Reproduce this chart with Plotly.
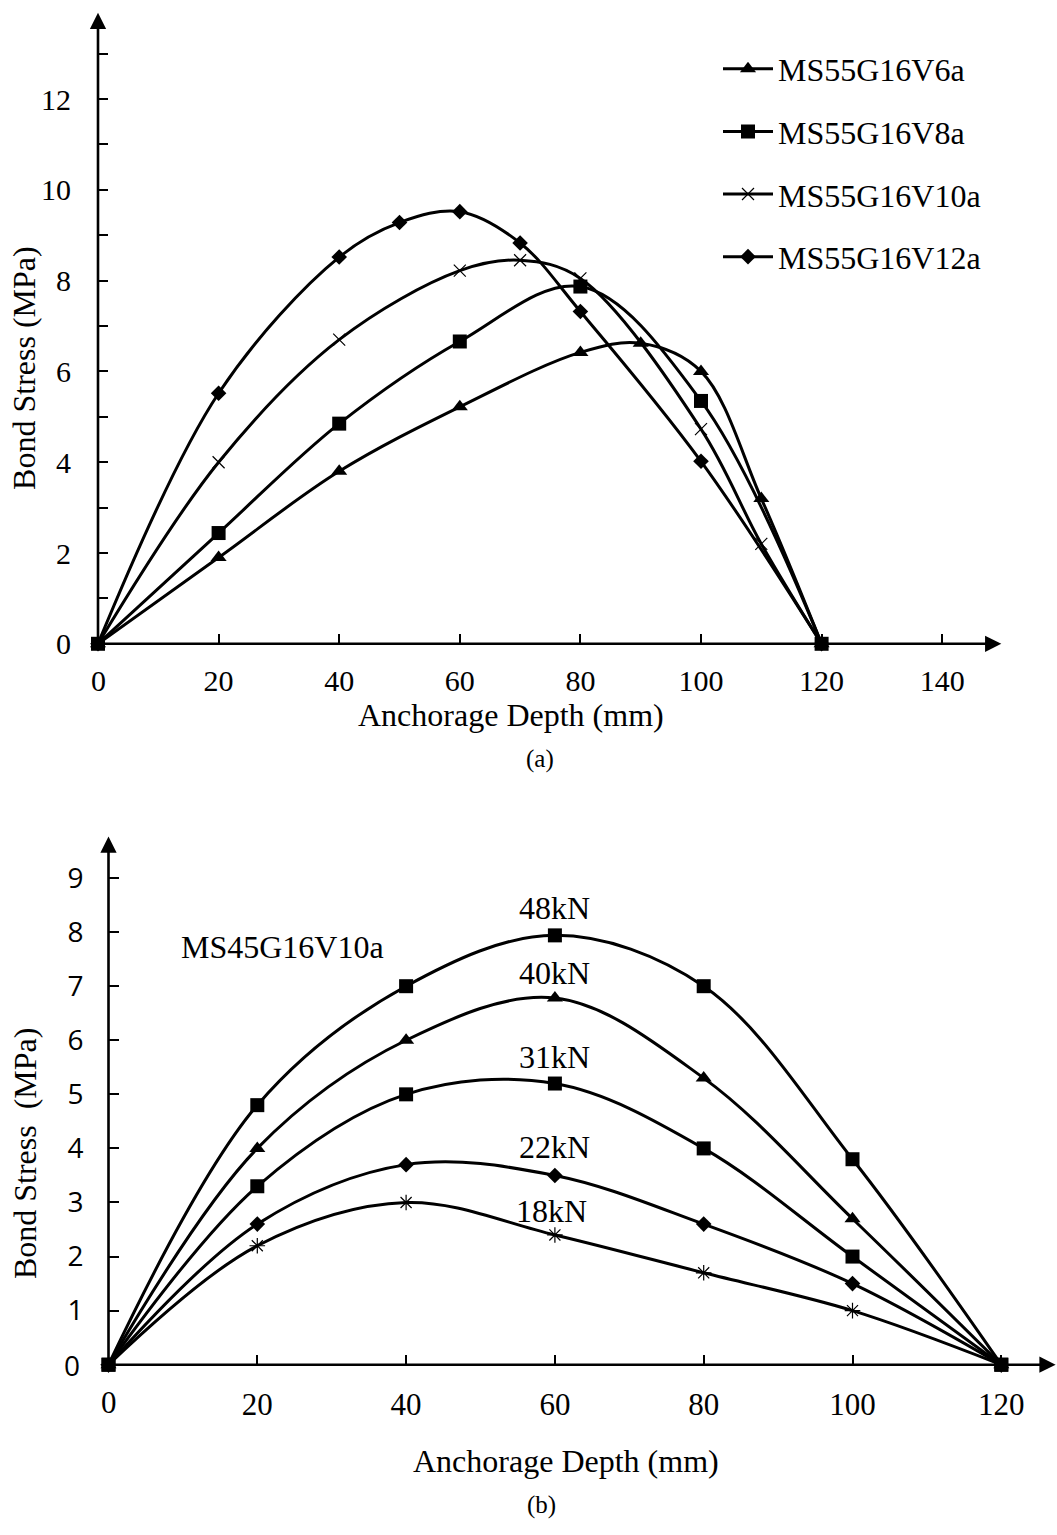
import plotly.graph_objects as go

W, H = 1057, 1535

# ---------- data (a) ----------
x_v6 = [0, 20, 40, 60, 80, 90, 100, 110, 120]
y_v6 = [0, 1.9, 3.8, 5.22, 6.42, 6.62, 6.0, 3.2, 0]
x_v8 = [0, 20, 40, 60, 80, 100, 120]
y_v8 = [0, 2.44, 4.85, 6.66, 7.87, 5.35, 0]
x_v10 = [0, 20, 40, 60, 70, 80, 100, 110, 120]
y_v10 = [0, 4.0, 6.7, 8.22, 8.45, 8.05, 4.73, 2.2, 0]
x_v12 = [0, 20, 40, 50, 60, 70, 80, 100, 120]
y_v12 = [0, 5.52, 8.52, 9.28, 9.52, 8.83, 7.32, 4.02, 0]
names_a = ["MS55G16V6a", "MS55G16V8a", "MS55G16V10a", "MS55G16V12a"]

# ---------- data (b) ----------
x_b = [0, 20, 40, 60, 80, 100, 120]
y_48 = [0, 4.8, 7.0, 7.94, 7.0, 3.8, 0]
y_40 = [0, 4.0, 6.0, 6.78, 5.3, 2.7, 0]
y_31 = [0, 3.3, 5.0, 5.2, 4.0, 2.0, 0]
y_22 = [0, 2.6, 3.7, 3.5, 2.6, 1.5, 0]
y_18 = [0, 2.2, 3.0, 2.4, 1.7, 1.0, 0]
labels_b = ["48kN", "40kN", "31kN", "22kN", "18kN"]
label_x_b = [60, 60, 60, 60, 59.5]
label_y_b = [8.45, 7.25, 5.69, 4.02, 2.84]

SERIF = "Liberation Serif"
SANS = "Open Sans"


def px_x(p):
    return p / W


def px_y(p):
    return (H - p) / H


fig = go.Figure()

line = dict(color="black", width=3, shape="spline", smoothing=1.0)

specs_a = [
    (x_v6, y_v6, "triangle-up", 14, 0),
    (x_v8, y_v8, "square", 14, 0),
    (x_v10, y_v10, "x-thin-open", 12, 1.2),
    (x_v12, y_v12, "diamond", 12, 0),
]
for i, (xs, ys, sym, sz, lw) in enumerate(specs_a):
    fig.add_trace(go.Scatter(
        x=xs, y=ys, mode="lines+markers", name=names_a[i],
        line=line, legendgroup=str(i),
        marker=dict(symbol=sym, size=sz, color="black",
                    line=dict(color="black", width=lw)),
        cliponaxis=False, xaxis="x", yaxis="y"))

specs_b = [
    (y_48, "square", 14, 0),
    (y_40, "triangle-up", 14, 0),
    (y_31, "square", 14, 0),
    (y_22, "diamond", 12, 0),
    (y_18, "asterisk-open", 13, 1.2),
]
for i, (ys, sym, sz, lw) in enumerate(specs_b):
    fig.add_trace(go.Scatter(
        x=x_b, y=ys, mode="lines+markers", name=labels_b[i],
        line=line, showlegend=False,
        marker=dict(symbol=sym, size=sz, color="black",
                    line=dict(color="black", width=lw)),
        cliponaxis=False, xaxis="x2", yaxis="y2"))

# ---------- axes geometry (pixels) ----------
# (a): x0 at px 98, 6.03 px/unit ; y0 at px 651, 45.9 px/unit
xa_max, ya_max = 149.8, 13.9
ax_l, ax_r = 98, 98 + xa_max * 6.03
ay_b, ay_t = 651, 651 - ya_max * 45.9
# (b): x0 at px 108.5, 7.44 px/unit ; y0 at px 1380, 54.68 px/unit
xb_max, yb_max = 127.3, 9.77
bx_l, bx_r = 108.5, 108.5 + xb_max * 7.44
by_b, by_t = 1380, 1380 - yb_max * 54.68

tickfont_a = dict(family=SERIF, size=30, color="black")
tickfont_b = dict(family=SERIF, size=31, color="black")
sansfont = dict(family=SANS, size=28, color="black")

common = dict(ticks="inside", ticklen=10, tickwidth=2, tickcolor="black",
              showgrid=False, zeroline=False, showline=False)

fig.update_layout(
    width=W, height=H,
    margin=dict(l=0, r=0, t=0, b=0),
    paper_bgcolor="white", plot_bgcolor="white",
    xaxis=dict(domain=[px_x(ax_l), px_x(ax_r)], range=[0, xa_max], anchor="y",
               tickvals=[20, 40, 60, 80, 100, 120, 140],
               tickfont=tickfont_a, ticklabelstandoff=16, **common),
    yaxis=dict(domain=[px_y(ay_b), px_y(ay_t)], range=[0, ya_max], anchor="x",
               tickvals=[0, 2, 4, 6, 8, 10, 12],
               minor=dict(tickvals=[1, 3, 5, 7, 9, 11, 13], ticks="inside", ticklen=10,
                          tickwidth=2, tickcolor="black", showgrid=False),
               tickfont=tickfont_a, ticklabelstandoff=26, **common),
    xaxis2=dict(domain=[px_x(bx_l), px_x(bx_r)], range=[0, xb_max], anchor="y2",
                tickvals=[20, 40, 60, 80, 100, 120],
                tickfont=tickfont_b, ticklabelstandoff=18, **common),
    yaxis2=dict(domain=[px_y(by_b), px_y(by_t)], range=[0, yb_max], anchor="x2",
                tickvals=[1, 2, 3, 4, 5, 6, 7, 8, 9],
                tickfont=sansfont, ticklabelstandoff=24, **common),
    legend=dict(x=px_x(718), y=px_y(42), xanchor="left", yanchor="top",
                font=dict(family=SERIF, size=32, color="black"),
                bgcolor="rgba(0,0,0,0)", tracegroupgap=18, itemwidth=50),
    showlegend=True,
)

ann = []
# axis arrows
for xr, yr, xm, ym in [("x", "y", xa_max, ya_max), ("x2", "y2", xb_max, yb_max)]:
    ann.append(dict(x=xm, y=0, ax=0, ay=0, xref=xr, yref=yr, axref=xr, ayref=yr,
                    showarrow=True, arrowhead=2, arrowsize=1.25, arrowwidth=2.6,
                    arrowcolor="black", text=""))
    ann.append(dict(x=0, y=ym, ax=0, ay=0, xref=xr, yref=yr, axref=xr, ayref=yr,
                    showarrow=True, arrowhead=2, arrowsize=1.25, arrowwidth=2.6,
                    arrowcolor="black", text=""))


def text_at(px, py, txt, font, angle=0, xanchor="center"):
    ann.append(dict(x=px_x(px), y=px_y(py), xref="paper", yref="paper", text=txt,
                    showarrow=False, xanchor=xanchor, yanchor="middle",
                    textangle=angle, font=font))


# zero labels at origins
text_at(98, 688, "0", tickfont_a)
text_at(108.5, 1418, "0", tickfont_b)
text_at(82, 1380, "0", sansfont, xanchor="right")

# titles
title_font = dict(family=SERIF, size=32, color="black")
text_at(511, 723, "Anchorage Depth (mm)", title_font)
text_at(24, 372, "Bond Stress (MPa)", title_font, angle=-90)
text_at(540, 767, "(a)", dict(family=SERIF, size=25, color="black"))
text_at(566, 1477, "Anchorage Depth (mm)", title_font)
text_at(25, 1166, "Bond Stress\u00a0\u00a0(MPa)", title_font, angle=-90)
text_at(541, 1522, "(b)", dict(family=SERIF, size=25, color="black"))

# panel (b) labels
lab_font = dict(family=SERIF, size=32, color="black")
ann.append(dict(x=23.4, y=7.72, xref="x2", yref="y2", text="MS45G16V10a",
                showarrow=False, yanchor="middle", font=lab_font))
for t, xx, yy in zip(labels_b, label_x_b, label_y_b):
    ann.append(dict(x=xx, y=yy, xref="x2", yref="y2", text=t,
                    showarrow=False, yanchor="middle", font=lab_font))

fig.update_layout(annotations=ann)
fig.write_html("out.html")
